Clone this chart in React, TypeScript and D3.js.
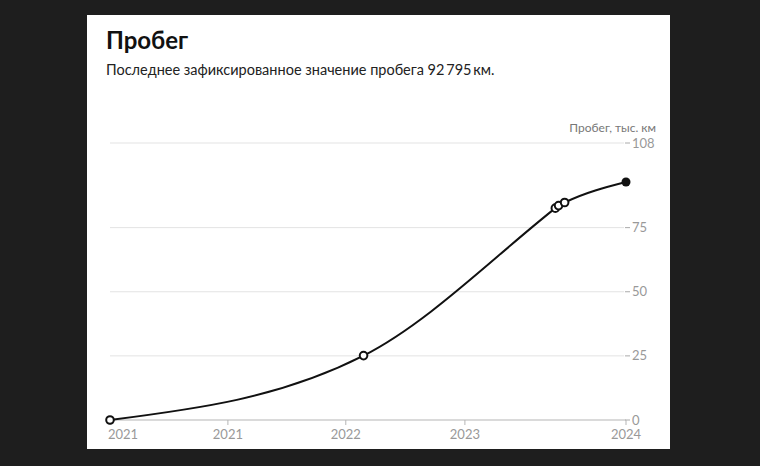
import React from "react";
import * as d3 from "d3";

const dates = ["2021-02-06", "2022-10-27", "2024-02-14", "2024-02-22", "2024-03-08", "2024-08-07"];
const values = [0, 25.1, 82.6, 83.6, 84.8, 92.795];
const tickDates = ["2021-02-06", "2021-11-25", "2022-09-13", "2023-07-05", "2024-08-07"];
const yTicks = [0, 25, 50, 75, 108];

const W = 760, H = 466;
const FONT = "Lato, 'Noto Sans', sans-serif";

export default function App() {
  const parse = d3.timeParse("%Y-%m-%d");
  const pts = dates.map((d, i) => ({ date: parse(d) as Date, v: values[i] }));
  const x = d3.scaleTime().domain([pts[0].date, pts[pts.length - 1].date]).range([110, 626]);
  const y = d3.scaleLinear().domain([0, 108]).range([420, 143]);
  const line = d3.line<{ date: Date; v: number }>().x(d => x(d.date)).y(d => y(d.v)).curve(d3.curveMonotoneX);
  const fmt = d3.timeFormat("%Y");
  const ticks = tickDates.map(d => parse(d) as Date);
  return (
    <svg width={W} height={H} style={{ position: "absolute", left: 0, top: 0 }} fontFamily={FONT}>
      <rect x={0} y={0} width={W} height={H} fill="#1e1e1e" />
      <rect x={87} y={15} width={583} height={434} fill="#ffffff" />
      <text x={106} y={49} fontSize={24} fontWeight={700} fill="#111">Пробег</text>
      <text x={106} y={75} fontSize={14.5} fill="#222">Последнее зафиксированное значение пробега 92{"\u2009"}795{"\u2009"}км.</text>
      <text x={656} y={132} fontSize={12} fill="#777" textAnchor="end">Пробег, тыс. км</text>
      {yTicks.map(t => (
        <g key={t}>
          {t !== 0 && <line x1={110} x2={624} y1={y(t)} y2={y(t)} stroke="#e3e3e3" strokeWidth={1} />}
          <line x1={625} x2={630} y1={y(t)} y2={y(t)} stroke="#aaa" strokeWidth={1} />
          <text x={632} y={y(t)} dy="0.35em" fontSize={13} fill="#999">{t}</text>
        </g>
      ))}
      <line x1={110} x2={626} y1={y(0)} y2={y(0)} stroke="#b5b5b5" strokeWidth={1} />
      {ticks.map((t, i) => (
        <g key={i}>
          <line x1={x(t)} x2={x(t)} y1={y(0)} y2={y(0) + 5} stroke="#b5b5b5" />
          <text x={i === 0 ? x(t) - 2 : x(t)} y={439} fontSize={13} fill="#999" textAnchor={i === 0 ? "start" : "middle"}>{fmt(t)}</text>
        </g>
      ))}
      <path d={line(pts) || ""} fill="none" stroke="#111" strokeWidth={2} />
      {pts.map((p, i) => (
        i === pts.length - 1
          ? <circle key={i} cx={x(p.date)} cy={y(p.v)} r={4.5} fill="#111" />
          : <circle key={i} cx={x(p.date)} cy={y(p.v)} r={3.8} fill="#fff" stroke="#111" strokeWidth={2} />
      ))}
    </svg>
  );
}
